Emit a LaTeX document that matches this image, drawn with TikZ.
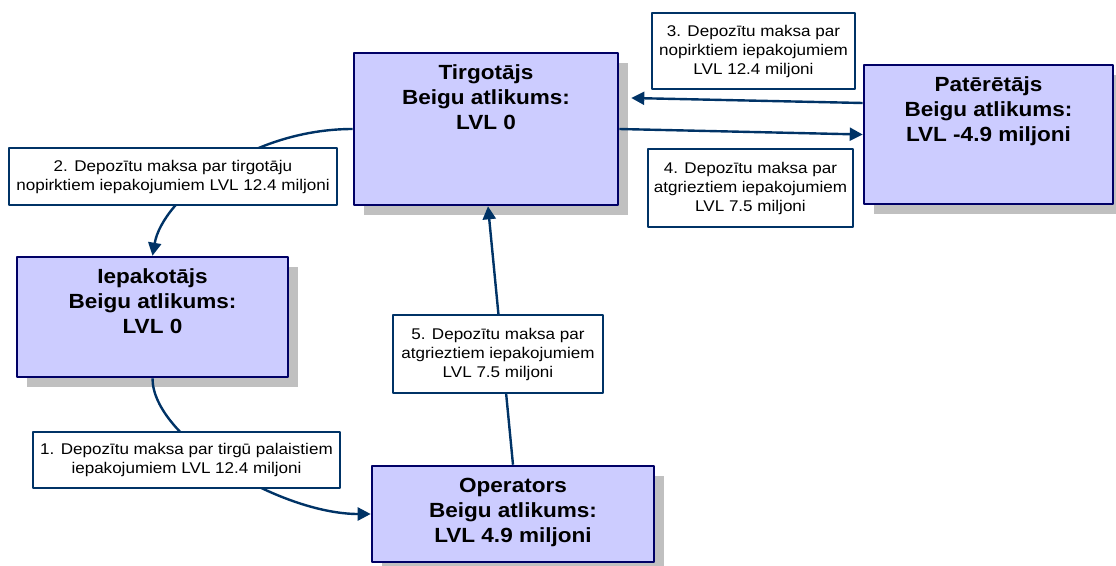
\documentclass[tikz,border=0pt]{standalone}
\usepackage{fontspec}
\setmainfont{Liberation Sans}[FakeStretch=1.1]
\usetikzlibrary{arrows.meta,shadows,calc}
\definecolor{boxfill}{HTML}{CCCCFF}
\definecolor{boxline}{HTML}{000066}
\definecolor{flow}{HTML}{003366}
\definecolor{shadowgray}{HTML}{C0C0C0}
\newcommand{\toptext}[2]{\parbox[c][#1][t]{230pt}{\centering #2}}
\tikzset{
  acct/.style={draw=boxline, line width=2.6pt, fill=boxfill,
    drop shadow={shadow xshift=10pt, shadow yshift=-10pt, fill=shadowgray, opacity=1},
    inner xsep=6pt, inner ysep=12pt, font=\fontsize{20.5}{25}\selectfont\bfseries},
  fee/.style={draw=flow, line width=2.3pt, fill=white, align=center, inner sep=0pt,
    font=\fontsize{15.5}{19}\selectfont},
  flowarrow/.style={draw=flow, line width=2.4pt, -{Triangle[length=13pt,width=13pt]}},
}
\begin{document}
\begin{tikzpicture}[x=1pt, y=-1pt, line join=round]
\useasboundingbox (0,0) rectangle (1116,565);
% accounts
\node[acct, minimum width=264, minimum height=152] (tirg) at (486,129)
  {\toptext{128pt}{Tirgotājs\\Beigu atlikums:\\LVL 0}};
\node[acct, minimum width=249, minimum height=139] (pat) at (988.5,134.5)
  {\toptext{115pt}{Patērētājs\\Beigu atlikums:\\LVL -4.9 miljoni}};
\node[acct, minimum width=271, minimum height=120] (iepak) at (152.5,317)
  {\toptext{96pt}{Iepakotājs\\Beigu atlikums:\\LVL 0}};
\node[acct, minimum width=282, minimum height=96] (oper) at (513,514)
  {\toptext{72pt}{Operators\\Beigu atlikums:\\LVL 4.9 miljoni}};
% money flows
\draw[flowarrow] (iepak.south) .. controls +(0,60) and +(-90,0) .. (oper.west);
\draw[flowarrow] (tirg.west) .. controls +(-104,0) and +(10,-57) .. (iepak.north);
\draw[flowarrow] ($(pat.west)+(0,-31.5)$) -- ($(tirg.east)+(12,-31)$);
\draw[flowarrow] (tirg.east) -- (pat.west);
\draw[flowarrow] (oper.north) -- ($(tirg.south)+(2,0)$);
% fees
\node[fee, minimum width=307, minimum height=56] (fee1) at (186.5,460)
  {1. Depozītu maksa par tirgū palaistiem\\iepakojumiem LVL 12.4 miljoni};
\node[fee, minimum width=328, minimum height=57] (fee2) at (173,176.5)
  {2. Depozītu maksa par tirgotāju\\nopirktiem iepakojumiem LVL 12.4 miljoni};
\node[fee, minimum width=203, minimum height=76] (fee3) at (753.5,51)
  {3. Depozītu maksa par\\nopirktiem iepakojumiem\\LVL 12.4 miljoni};
\node[fee, minimum width=205, minimum height=78] (fee4) at (750.5,188)
  {4. Depozītu maksa par\\atgrieztiem iepakojumiem\\LVL 7.5 miljoni};
\node[fee, minimum width=210, minimum height=78] (fee5) at (498,354)
  {5. Depozītu maksa par\\atgrieztiem iepakojumiem\\LVL 7.5 miljoni};
\end{tikzpicture}
\end{document}
